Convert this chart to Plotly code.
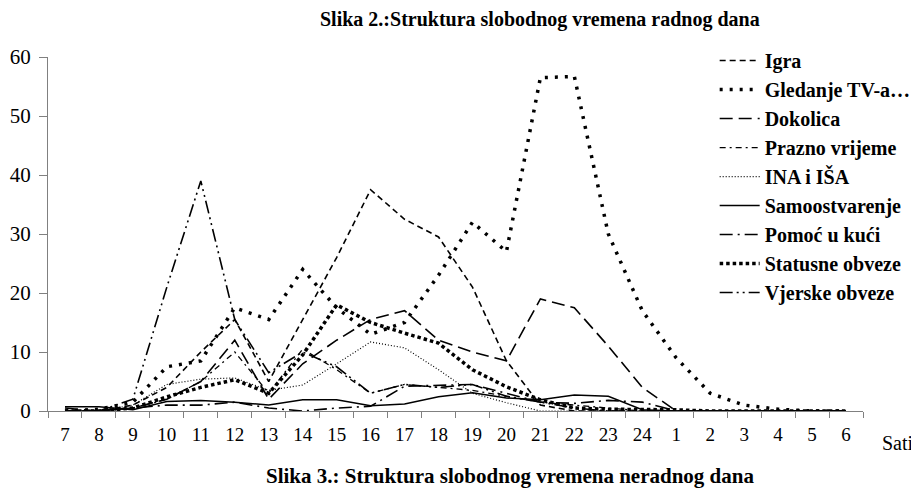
import plotly.graph_objects as go

hours = ['7','8','9','10','11','12','13','14','15','16','17','18','19','20','21','22','23','24','1','2','3','4','5','6']

igra =          [0, 0, 1, 4, 10, 15.5, 5, 15.5, 26, 37.5, 32.5, 29.5, 21, 8.5, 1, 0, 0, 0, 0, 0, 0, 0, 0, 0]
gledanje_tv =   [0, 0.3, 1.5, 7.5, 8.5, 17.5, 15.5, 24, 17.5, 13, 15, 23, 32, 27, 56.5, 56.7, 30, 17, 9, 3, 1, 0.3, 0, 0]
dokolica =      [0.5, 0, 0.5, 2, 5, 12, 2, 8, 12, 15.5, 17, 12, 10, 8.5, 19, 17.5, 11, 4, 0, 0, 0, 0, 0, 0]
prazno =        [0, 0, 0.5, 2, 5, 10, 3, 10.5, 7, 3, 4.5, 4, 3.5, 2.5, 1.5, 1, 0.5, 0, 0, 0, 0, 0, 0, 0]
ina_isa =       [0, 0, 1, 4.5, 5.4, 5.6, 3.5, 4.4, 8, 11.7, 10.7, 7, 3, 1.4, 0, 0, 0, 0, 0, 0, 0, 0, 0, 0]
samoostv =      [0.7, 0.7, 0.2, 1.6, 1.8, 1.5, 1, 1.9, 1.9, 0.9, 1.2, 2.4, 3.1, 2.2, 1.9, 2.7, 2.5, 0.2, 0, 0, 0, 0, 0, 0]
pomoc =         [0, 0, 0.5, 1, 1, 1.5, 0.5, 0, 0.5, 0.8, 4.2, 4.3, 4.5, 3, 1.5, 1.3, 1.8, 1.5, 0, 0, 0, 0, 0, 0]
statusne =      [0, 0, 0.5, 2.4, 4, 5.3, 3, 9.5, 18, 15, 13.2, 11.5, 7, 4.1, 1.9, 0.5, 0.3, 0.3, 0.2, 0, 0, 0, 0, 0]
vjerske =       [0, 0, 2, 21, 39, 15.5, 6.5, 10, 7.5, 3, 4.5, 4, 4.5, 2.5, 1.5, 0.5, 0, 0, 0, 0, 0, 0, 0, 0]

series = [
    ("Igra", igra, "6px,4px", 1.6),
    ("Gledanje TV-a…", gledanje_tv, "3px,7px", 3.5),
    ("Dokolica", dokolica, "13px,6px", 1.6),
    ("Prazno vrijeme", prazno, "6px,4px,2px,4px", 1.3),
    ("INA i IŠA", ina_isa, "1px,2px", 1.2),
    ("Samoostvarenje", samoostv, None, 1.5),
    ("Pomoć u kući", pomoc, "13px,5px,2px,5px", 1.6),
    ("Statusne obveze", statusne, "3.5px,3px", 3.5),
    ("Vjerske obveze", vjerske, "13px,4px,2px,4px,2px,4px", 1.6),
]

fig = go.Figure()
for i, (name, vals, dash, w) in enumerate(series):
    line = dict(color="black", width=w)
    if dash:
        line["dash"] = dash
    fig.add_trace(go.Scatter(x=hours, y=vals, mode="lines", name=name, line=line,
                             legendgroup=str(i)))

serif = "Times New Roman, Liberation Serif, Tinos, DejaVu Serif, serif"
fig.update_layout(
    width=911, height=480,
    margin=dict(l=40, r=56, t=49, b=77, autoexpand=False),
    paper_bgcolor="white", plot_bgcolor="white",
    font=dict(family=serif, color="black", size=19),
    showlegend=True,
    legend=dict(x=0.818, y=1.045, xanchor="left", yanchor="top",
                bgcolor="rgba(0,0,0,0)", tracegroupgap=0, maxheight=440,
                traceorder="grouped", itemwidth=40,
                font=dict(family=serif, size=20, color="black", weight="bold")),
    xaxis=dict(type="category", range=[-0.5, 23.5], showgrid=False, showline=True, linecolor="#808080",
               ticks="outside", tickson="boundaries", ticklen=6, tickcolor="#808080",
               ticklabelstandoff=6,
               tickfont=dict(size=19, family=serif), zeroline=False),
    yaxis=dict(range=[0, 60], dtick=10, showgrid=False, showline=True, linecolor="#808080",
               ticks="outside", ticklen=8, tickcolor="#808080", ticklabelstandoff=4,
               tickfont=dict(size=21, family=serif), zeroline=False),
    annotations=[
        dict(text="<b>Slika 2.:Struktura slobodnog vremena radnog dana</b>", xref="paper", yref="paper",
             x=(540 - 48) / 815, y=1.105, xanchor="center", yanchor="middle", showarrow=False,
             font=dict(size=20, family=serif)),
        dict(text="Sati", xref="paper", yref="paper", x=(880 - 48) / 815, y=-0.09,
             xanchor="left", yanchor="middle", showarrow=False, font=dict(size=20, family=serif)),
        dict(text="<b>Slika 3.: Struktura slobodnog vremena neradnog dana</b>", xref="paper", yref="paper",
             x=(510 - 48) / 815, y=-0.184, xanchor="center", yanchor="middle", showarrow=False,
             font=dict(size=21, family=serif)),
    ],
)

fig.write_html("out.html")
